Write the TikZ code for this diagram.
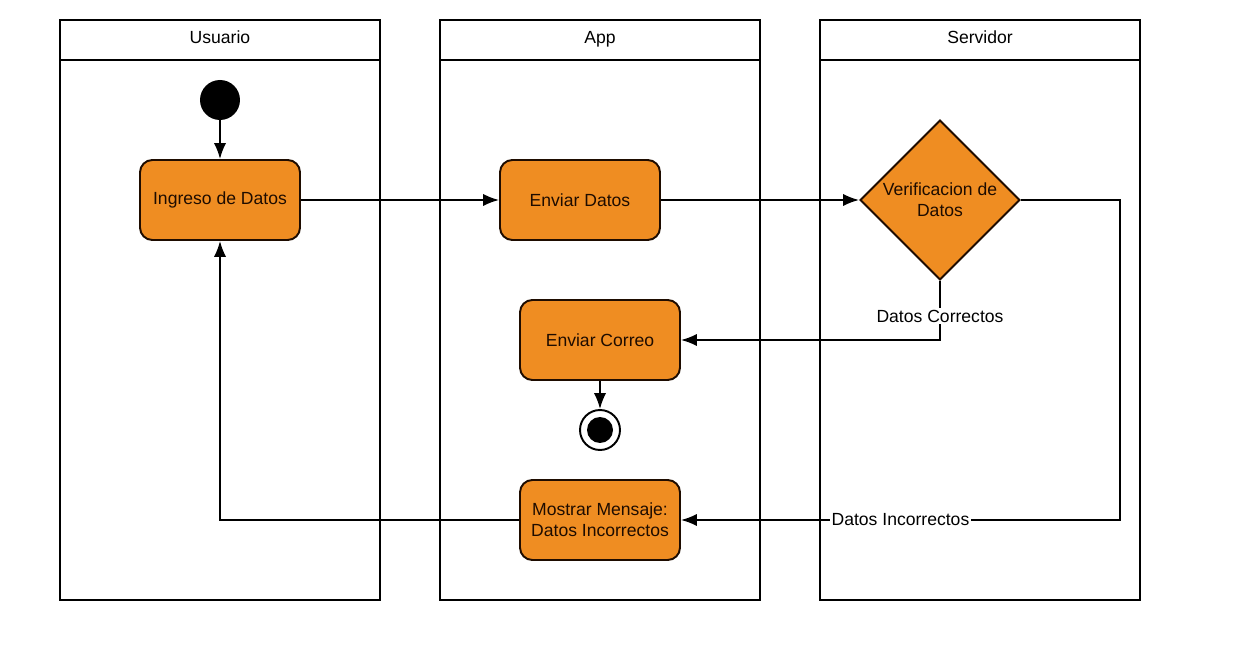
\documentclass[tikz,border=0pt]{standalone}
\usepackage{fontspec}
\setmainfont{Liberation Sans}
\usetikzlibrary{positioning}
\usetikzlibrary{shapes.geometric}
\usetikzlibrary{arrows.meta}
\definecolor{actfill}{RGB}{239,141,34}
\definecolor{acttext}{RGB}{30,12,0}

\tikzset{
    lane/.style={draw, line width=0.8pt},
    head/.style={anchor=base},
    act/.style={draw=acttext, fill=actfill, text=acttext, rounded corners=7pt,
        line width=1.1pt, minimum width=3.2cm, minimum height=1.6cm, align=center},
    decide/.style={diamond, draw=acttext, fill=actfill, text=acttext, line width=1.1pt,
        minimum width=3.2cm, minimum height=3.2cm, inner sep=0pt, align=center},
    flow/.style={line width=1.1pt, -{Latex[length=9pt,width=7pt]}},
    lbl/.style={fill=white, inner sep=1pt}
}

\begin{document}
\begin{tikzpicture}[x=0.02cm, y=-0.02cm, font=\fontsize{10}{12}\selectfont]
    \useasboundingbox (0, 0) rectangle (1241, 665);

    % swimlanes
    \draw [lane] (60, 20) rectangle (380, 600) (60, 60) -- (380, 60);
    \draw [lane] (440, 20) rectangle (760, 600) (440, 60) -- (760, 60);
    \draw [lane] (820, 20) rectangle (1140, 600) (820, 60) -- (1140, 60);
    \path (220, 44) node [head] (usuario) {Usuario};
    \path (600, 44) node [head] (app) {App};
    \path (980, 44) node [head] (servidor) {Servidor};

    % actividades
    \path (220, 100) node [circle, fill=black, minimum size=0.8cm, inner sep=0pt] (ini) {};
    \path (220, 200) node [act] (ingreso) {Ingreso de Datos};
    \path (580, 200) node [act] (enviar) {Enviar Datos};
    \path (940, 200) node [decide] (verif) {Verificacion de\\Datos};
    \path (600, 340) node [act] (correo) {Enviar Correo};
    \path (600, 430) node [circle, draw, line width=1.1pt, fill=white, minimum size=0.8cm,
        inner sep=0pt, path picture={\fill[black] (path picture bounding box.center) circle (0.26cm);}] (fin) {};
    \path (600, 520) node [act] (mostrar) {Mostrar Mensaje:\\Datos Incorrectos};

    % flujos
    \draw [flow] (ini) -- (ingreso);
    \draw [flow] (ingreso) -- (enviar);
    \draw [flow] (enviar) -- (verif);
    \draw [flow] (verif.south) |- (correo.east) node[pos=0.3, lbl] {Datos Correctos};
    \draw [flow] (correo) -- (fin);
    \draw [flow] (verif.east) -- (1120, 200) |- (mostrar.east)
	node[pos=0.75, lbl] {Datos Incorrectos};
    \draw [flow] (mostrar.west) -| (ingreso.south);
\end{tikzpicture}
\end{document}
